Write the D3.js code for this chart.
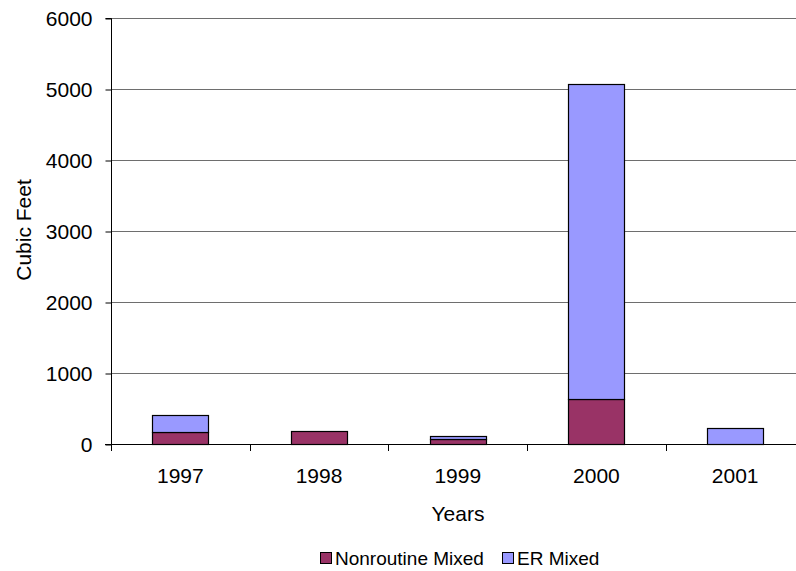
<!DOCTYPE html>
<html>
<head>
<meta charset="utf-8">
<script src="https://cdn.jsdelivr.net/npm/d3@7/dist/d3.min.js"></script>
<style>
  html, body { margin: 0; padding: 0; background: #fff; }
  svg { display: block; font-family: Arial, "Liberation Sans", sans-serif; }
</style>
</head>
<body>
<svg id="chart" width="796" height="571"></svg>
<script>
// Waste volumes per year, in cubic feet
const years = ["1997", "1998", "1999", "2000", "2001"];
const nonroutineMixed = [175, 185, 65, 635, 0];
const erMixed = [240, 0, 50, 4435, 230];
const seriesNames = ["Nonroutine Mixed", "ER Mixed"];
const seriesColors = ["#993366", "#9999FF"];
const yTicks = [0, 1000, 2000, 3000, 4000, 5000, 6000];

const svg = d3.select("#chart");
const plotLeft = 111, plotTop = 18, plotBottom = 444, plotRight = 804.5;
const fontSize = 21;

const x = d3.scaleBand()
  .domain(years)
  .range([plotLeft, plotRight])
  .paddingInner(0.596)
  .paddingOuter(0.298);

const y = d3.scaleLinear().domain([0, 6000]).range([plotBottom, plotTop]);

// horizontal gridlines
svg.append("g")
  .selectAll("line")
  .data(yTicks.filter(d => d > 0))
  .join("line")
  .attr("x1", plotLeft).attr("x2", plotRight)
  .attr("y1", d => Math.round(y(d)) + 0.5)
  .attr("y2", d => Math.round(y(d)) + 0.5)
  .attr("stroke", "#6e6e6e")
  .attr("stroke-width", 1);

// stacked bars
const rows = years.map((yr, i) => ({ year: yr, values: [nonroutineMixed[i], erMixed[i]] }));
const stacked = [];
rows.forEach(r => {
  let base = 0;
  r.values.forEach((v, k) => {
    if (v > 0) stacked.push({ year: r.year, k, y0: base, y1: base + v });
    base += v;
  });
});

svg.append("g")
  .selectAll("rect")
  .data(stacked)
  .join("rect")
  .attr("x", d => Math.round(x(d.year)) + 0.5)
  .attr("width", Math.round(x.bandwidth()))
  .attr("y", d => Math.round(y(d.y1)) + 0.5)
  .attr("height", d => Math.round(y(d.y0)) - Math.round(y(d.y1)))
  .attr("fill", d => seriesColors[d.k])
  .attr("stroke", "#000")
  .attr("stroke-width", 1.2);

// y axis
const yAxis = d3.axisLeft(y).tickValues(yTicks).tickSize(6).tickPadding(13).tickFormat(d3.format("d"));
const gy = svg.append("g").attr("transform", `translate(${plotLeft + 0.5},0.5)`).call(yAxis);
gy.select(".domain").attr("stroke", "#000").attr("d", `M-6,${plotTop}H0V${plotBottom}`);
gy.selectAll(".tick line").attr("stroke", "#000");
gy.selectAll(".tick text").attr("font-size", fontSize).attr("fill", "#000")
  .attr("font-family", "Arial, 'Liberation Sans', sans-serif");

// x axis: baseline, category-boundary ticks and labels
const gx = svg.append("g");
gx.append("line")
  .attr("x1", plotLeft - 6).attr("x2", plotRight)
  .attr("y1", plotBottom + 0.5).attr("y2", plotBottom + 0.5)
  .attr("stroke", "#000");
const step = x.step();
const boundaries = d3.range(years.length + 1).map(i => plotLeft + i * step);
gx.selectAll("line.tk")
  .data(boundaries)
  .join("line")
  .attr("class", "tk")
  .attr("x1", d => Math.round(d) + 0.5).attr("x2", d => Math.round(d) + 0.5)
  .attr("y1", plotBottom).attr("y2", plotBottom + 7)
  .attr("stroke", "#000");
gx.selectAll("text")
  .data(years)
  .join("text")
  .attr("x", d => x(d) + x.bandwidth() / 2)
  .attr("y", 483)
  .attr("text-anchor", "middle")
  .attr("font-size", fontSize)
  .text(d => d);

// axis titles
svg.append("text")
  .attr("x", 458).attr("y", 521)
  .attr("text-anchor", "middle")
  .attr("font-size", fontSize)
  .text("Years");

svg.append("text")
  .attr("transform", "translate(31,230) rotate(-90)")
  .attr("text-anchor", "middle")
  .attr("font-size", fontSize)
  .text("Cubic Feet");

// legend
const legend = svg.append("g");
const legendPos = [320, 502];
seriesNames.forEach((name, i) => {
  legend.append("rect")
    .attr("x", legendPos[i] + 0.5).attr("y", 552.5)
    .attr("width", 11).attr("height", 11)
    .attr("fill", seriesColors[i])
    .attr("stroke", "#000");
  legend.append("text")
    .attr("x", legendPos[i] + 15).attr("y", 565)
    .attr("font-size", 19)
    .text(name);
});
</script>
</body>
</html>
